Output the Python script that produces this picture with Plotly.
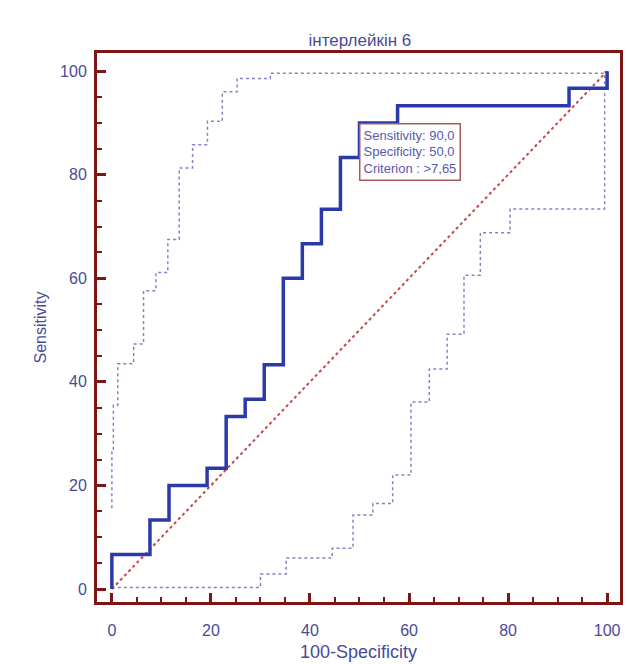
import plotly.graph_objects as go

# ROC operating points (100-Specificity, Sensitivity)
roc_fpr = [0, 0, 7.69, 11.54, 19.23, 23.08, 26.92, 30.77, 34.62, 38.46, 42.31, 46.15, 50.0, 57.69, 92.31, 100]
roc_tpr = [0, 6.67, 13.33, 20.0, 23.33, 33.33, 36.67, 43.33, 60.0, 66.67, 73.33, 83.33, 90.0, 93.33, 96.67, 100]

# Upper confidence bound
up_fpr = [0, 0, 0.3, 1.2, 4.4, 6.4, 8.9, 11.3, 13.6, 16.3, 19.3, 22.3, 25.3, 32.0, 100]
up_tpr = [15.6, 27.0, 35.5, 43.5, 47.3, 57.6, 61.1, 67.5, 81.3, 85.8, 90.3, 96.0, 98.6, 99.6, 100]

# Lower confidence bound
lo_fpr = [0, 30.0, 35.2, 44.5, 48.7, 52.7, 56.7, 60.4, 64.1, 67.7, 71.1, 74.4, 80.4, 99.5]
lo_tpr = [0.3, 2.9, 6.0, 7.9, 14.3, 16.5, 22.0, 36.1, 42.5, 49.2, 60.6, 68.8, 73.4, 100]

diag = [0, 100]

crit_sens = 90.0
crit_spec = 50.0
crit_label = ">7,65"

title = "інтерлейкін 6"
x_title = "100-Specificity"
y_title = "Sensitivity"

txt = "#4a4a96"
frame = "#7f1414"
font_fam = "Liberation Sans, Arial"

fig = go.Figure()
fig.add_trace(go.Scatter(x=diag, y=diag, mode="lines",
                         line=dict(color="#c04a4a", width=2, dash="dot"), hoverinfo="skip"))
fig.add_trace(go.Scatter(x=up_fpr, y=up_tpr, mode="lines", line_shape="hv",
                         line=dict(color="#8484c4", width=1.5, dash="dot")))
fig.add_trace(go.Scatter(x=lo_fpr, y=lo_tpr, mode="lines", line_shape="hv",
                         line=dict(color="#8484c4", width=1.5, dash="dot")))
fig.add_trace(go.Scatter(x=roc_fpr, y=roc_tpr, mode="lines", line_shape="hv",
                         line=dict(color="#2b3aa8", width=3.5)))

fig.add_annotation(
    x=100 - crit_spec, y=crit_sens, xref="x", yref="y",
    xanchor="left", yanchor="top", showarrow=False, align="left",
    text=f"Sensitivity: {crit_sens:.1f}".replace(".", ",") + "<br>"
         + f"Specificity: {crit_spec:.1f}".replace(".", ",") + "<br>"
         + f"Criterion : {crit_label}",
    font=dict(family=font_fam, size=13, color="#5a5aa8"),
    bgcolor="white", bordercolor="#a85a5a", borderwidth=1.5, borderpad=3,
)

axis_common = dict(
    showgrid=False, zeroline=False, showline=True, mirror=True,
    linecolor=frame, linewidth=3,
    ticks="inside", ticklen=9, tickwidth=3, tickcolor=frame,
    tickfont=dict(family=font_fam, size=16, color=txt),
    minor=dict(dtick=5, ticks="inside", ticklen=5, tickwidth=2, tickcolor=frame),
    dtick=20, tick0=0,
)

fig.update_layout(
    width=627, height=664,
    margin=dict(l=97, r=4, t=53, b=60),
    paper_bgcolor="white", plot_bgcolor="white",
    showlegend=False,
    title=dict(text=title, x=0.574, xanchor="center", y=0.94, yanchor="middle",
               font=dict(family=font_fam, size=17, color=txt)),
    xaxis=dict(range=[-3, 102.6], title=dict(text=x_title, standoff=8,
               font=dict(family=font_fam, size=18, color=txt)),
               ticklabelstandoff=12, **axis_common),
    yaxis=dict(range=[-2.5, 103.5], title=dict(text=y_title, standoff=10,
               font=dict(family=font_fam, size=16, color=txt)),
               ticklabelstandoff=4, **axis_common),
)

fig.write_html("out.html")
